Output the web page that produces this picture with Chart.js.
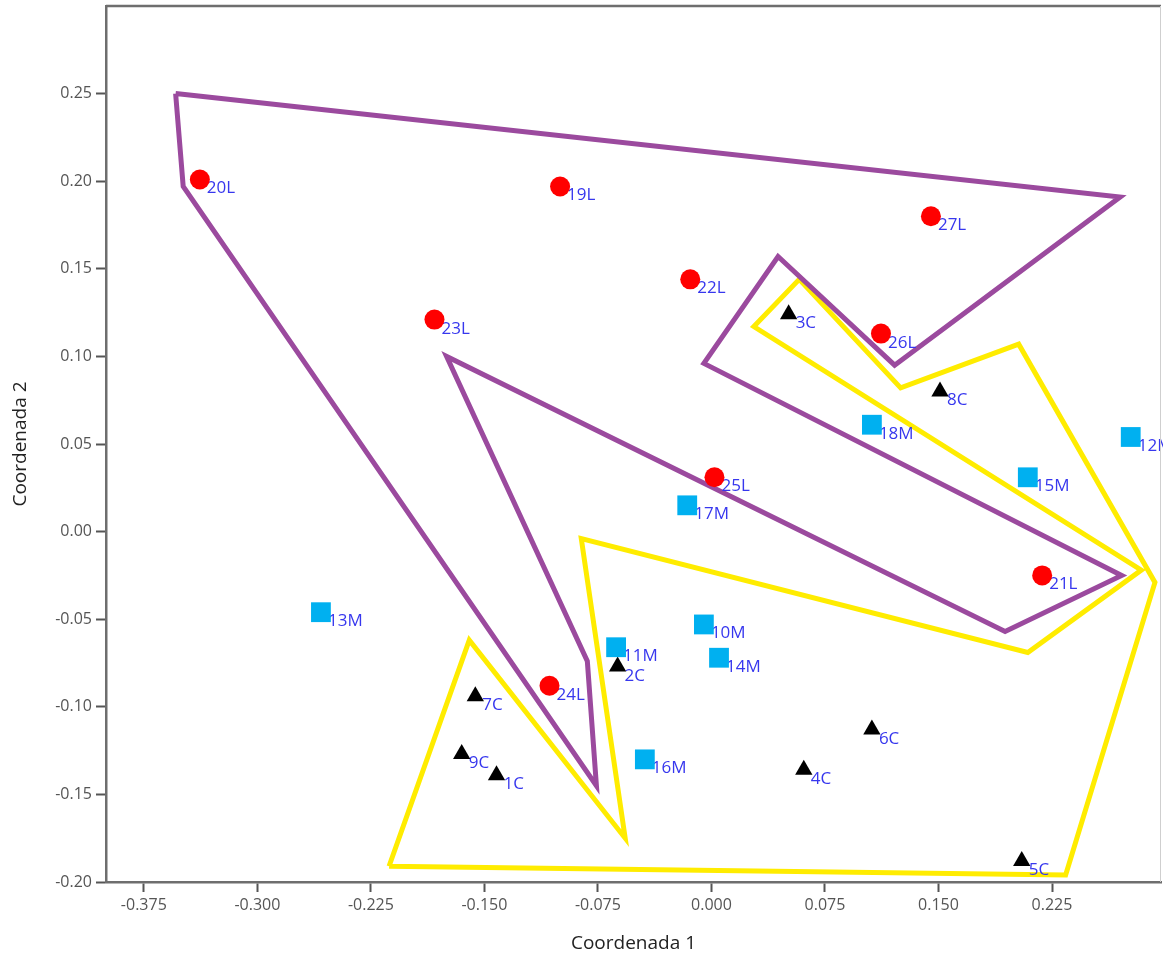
<!DOCTYPE html>
<html>
<head>
<meta charset="utf-8">
<script src="https://cdn.jsdelivr.net/npm/chart.js@4.4.1/dist/chart.umd.min.js"></script>
<style>
  html, body { margin: 0; padding: 0; background: #ffffff; }
  canvas { display: block; }
</style>
</head>
<body>
<canvas id="chart" width="1163" height="957"></canvas>
<script>
// Group L (red circles)
const namesL = ['19L', '20L', '21L', '22L', '23L', '24L', '25L', '26L', '27L'];
const xL = [-0.100, -0.338, 0.2185, -0.014, -0.183, -0.107, 0.002, 0.112, 0.145];
const yL = [0.197, 0.201, -0.025, 0.144, 0.121, -0.088, 0.031, 0.113, 0.180];

// Group M (cyan squares)
const namesM = ['10M', '11M', '12M', '13M', '14M', '15M', '16M', '17M', '18M'];
const xM = [-0.005, -0.063, 0.277, -0.258, 0.005, 0.209, -0.044, -0.016, 0.106];
const yM = [-0.053, -0.066, 0.054, -0.046, -0.072, 0.031, -0.130, 0.015, 0.061];

// Group C (black triangles)
const namesC = ['1C', '2C', '3C', '4C', '5C', '6C', '7C', '8C', '9C'];
const xC = [-0.142, -0.062, 0.051, 0.061, 0.205, 0.106, -0.156, 0.151, -0.165];
const yC = [-0.139, -0.077, 0.124, -0.136, -0.188, -0.113, -0.094, 0.080, -0.127];

// Purple outline (closed)
const purpleX = [-0.354, 0.270, 0.121, 0.044, -0.005, 0.271, 0.194, -0.175, -0.082, -0.076, -0.349, -0.354];
const purpleY = [0.250, 0.191, 0.095, 0.157, 0.096, -0.025, -0.057, 0.100, -0.074, -0.145, 0.197, 0.250];

// Yellow outline (closed)
const yellowX = [-0.213, -0.160, -0.057, -0.086, 0.209, 0.284, 0.028, 0.058, 0.125, 0.203, 0.293, 0.234, -0.213];
const yellowY = [-0.191, -0.062, -0.175, -0.004, -0.069, -0.022, 0.117, 0.144, 0.082, 0.107, -0.029, -0.196, -0.191];

// Axis ticks
const xTickValues = [-0.375, -0.300, -0.225, -0.150, -0.075, 0.000, 0.075, 0.150, 0.225];
const xTickLabels = ['-0.375', '-0.300', '-0.225', '-0.150', '-0.075', '0.000', '0.075', '0.150', '0.225'];
const yTickValues = [-0.20, -0.15, -0.10, -0.05, 0.00, 0.05, 0.10, 0.15, 0.20, 0.25];
const yTickLabels = ['-0.20', '-0.15', '-0.10', '-0.05', '0.00', '0.05', '0.10', '0.15', '0.20', '0.25'];

const toPoints = (xs, ys) => xs.map((x, i) => ({ x: x, y: ys[i] }));

// Names written beside each marker, underneath the marker itself
const pointNames = {
  id: 'pointNames',
  beforeDatasetDraw(chart, args) {
    const ds = chart.data.datasets[args.index];
    if (!ds.pointNames) return;
    const ctx = chart.ctx;
    ctx.save();
    ctx.font = '17px "Open Sans"';
    ctx.fillStyle = '#3737ee';
    ctx.textAlign = 'left';
    ctx.textBaseline = 'alphabetic';
    args.meta.data.forEach((el, i) => {
      ctx.fillText(ds.pointNames[i], el.x + 7, el.y + 14);
    });
    ctx.restore();
  }
};

// Top and right edges of the plotting frame
const frame = {
  id: 'frame',
  afterDraw(chart) {
    const { ctx, chartArea: a } = chart;
    ctx.save();
    ctx.strokeStyle = '#6e6e6e';
    ctx.lineWidth = 2.5;
    ctx.beginPath();
    ctx.moveTo(a.left, a.top);
    ctx.lineTo(a.right, a.top);
    ctx.stroke();
    ctx.strokeStyle = '#cfcfcf';
    ctx.lineWidth = 1;
    ctx.beginPath();
    ctx.moveTo(a.right - 0.5, a.top);
    ctx.lineTo(a.right - 0.5, a.bottom);
    ctx.stroke();
    ctx.restore();
  }
};

// Fixed axis box sizes with no extra room reserved for edge labels
const fixBox = (size, key) => (scale) => {
  scale[key] = size;
  scale.paddingTop = 0;
  scale.paddingBottom = 0;
  scale.paddingLeft = 0;
  scale.paddingRight = 0;
};

const outline = (xs, ys, color) => ({
  data: toPoints(xs, ys),
  showLine: true,
  borderColor: color,
  backgroundColor: color,
  borderWidth: 5,
  borderJoinStyle: 'miter',
  pointRadius: 0,
  pointHoverRadius: 0,
  tension: 0,
  fill: false,
  order: 5
});

new Chart(document.getElementById('chart'), {
  type: 'scatter',
  data: {
    datasets: [
      outline(purpleX, purpleY, '#9b4a9e'),
      outline(yellowX, yellowY, '#ffec00'),
      {
        data: toPoints(xL, yL),
        pointNames: namesL,
        pointStyle: 'circle',
        pointRadius: 10,
        pointBackgroundColor: '#ff0000',
        pointBorderColor: '#ff0000',
        pointBorderWidth: 0,
        order: 1
      },
      {
        data: toPoints(xM, yM),
        pointNames: namesM,
        pointStyle: 'rect',
        pointRadius: 14,
        pointBackgroundColor: '#00b0f0',
        pointBorderColor: '#00b0f0',
        pointBorderWidth: 0,
        order: 1
      },
      {
        data: toPoints(xC, yC),
        pointNames: namesC,
        pointStyle: 'triangle',
        pointRadius: 10,
        pointBackgroundColor: '#000000',
        pointBorderColor: '#000000',
        pointBorderWidth: 0,
        order: 1
      }
    ]
  },
  options: {
    responsive: false,
    animation: false,
    events: [],
    layout: { autoPadding: false, padding: { top: 6, right: 2, left: 0, bottom: 0 } },
    plugins: {
      legend: { display: false },
      tooltip: { enabled: false }
    },
    scales: {
      x: {
        type: 'linear',
        min: -0.40,
        max: 0.297,
        afterBuildTicks: (scale) => { scale.ticks = xTickValues.map(v => ({ value: v })); },
        afterFit: fixBox(75, 'height'),
        ticks: {
          autoSkip: false,
          maxRotation: 0,
          padding: 4,
          color: '#555555',
          font: { family: '"Open Sans"', size: 16 },
          callback: (v, i) => xTickLabels[i]
        },
        grid: {
          drawOnChartArea: false,
          drawTicks: true,
          tickLength: 10,
          tickColor: '#555555',
          tickWidth: 2
        },
        border: { display: true, color: '#6e6e6e', width: 2.5 },
        title: {
          display: true,
          text: 'Coordenada 1',
          color: '#222222',
          font: { family: '"Open Sans"', size: 19 },
          padding: { top: 0, bottom: 2 }
        }
      },
      y: {
        type: 'linear',
        min: -0.20,
        max: 0.30,
        afterBuildTicks: (scale) => { scale.ticks = yTickValues.map(v => ({ value: v })); },
        afterFit: fixBox(106, 'width'),
        ticks: {
          autoSkip: false,
          padding: 4,
          color: '#555555',
          font: { family: '"Open Sans"', size: 16 },
          callback: (v, i) => yTickLabels[i]
        },
        grid: {
          drawOnChartArea: false,
          drawTicks: true,
          tickLength: 10,
          tickColor: '#555555',
          tickWidth: 2
        },
        border: { display: true, color: '#6e6e6e', width: 2.5 },
        title: {
          display: true,
          text: 'Coordenada 2',
          color: '#222222',
          font: { family: '"Open Sans"', size: 19 },
          padding: { top: 9, bottom: 0 }
        }
      }
    }
  },
  plugins: [pointNames, frame]
});
</script>
</body>
</html>
